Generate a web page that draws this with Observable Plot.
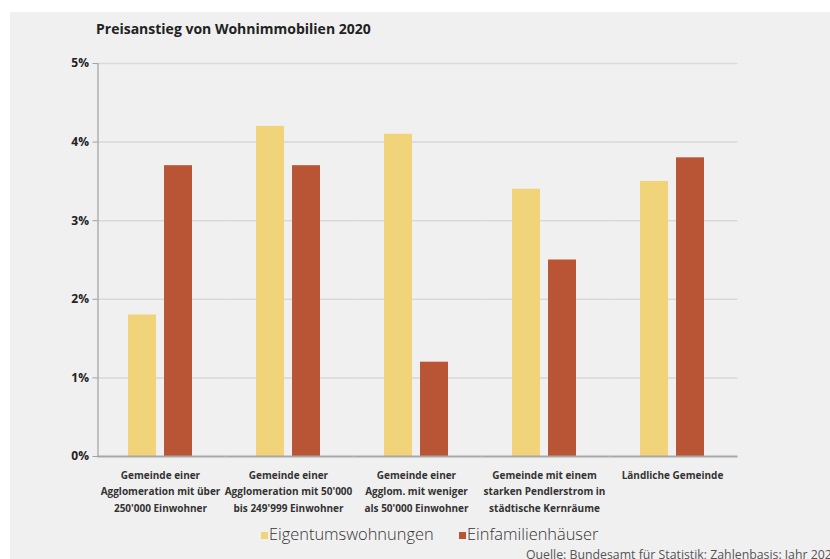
<!DOCTYPE html>
<html>
<head>
<meta charset="utf-8">
<script src="https://cdn.jsdelivr.net/npm/d3@7"></script>
<script src="https://cdn.jsdelivr.net/npm/@observablehq/plot@0.6"></script>
<style>
  html, body { margin: 0; padding: 0; background: #ffffff; }
  body { width: 830px; height: 559px; overflow: hidden; position: relative; font-family: "Open Sans", "Noto Sans", sans-serif; }
  #panel { position: absolute; left: 10px; top: 12px; right: 0; bottom: 0; background: #f0f0f0; }
  #chart { position: absolute; left: 0; top: 0; }
  #title { position: absolute; left: 96px; top: 22px; font-size: 14px; line-height: 14px; font-weight: 700; color: #222; white-space: nowrap; }
  .leg { position: absolute; top: 524px; font-size: 16.4px; line-height: 20px; font-weight: 300; color: #333; white-space: nowrap; }
  .leg .sw { position: absolute; left: 0; top: 8px; width: 7px; height: 7px; }
  .leg .lb { position: absolute; left: 8px; top: 0; }
  #source { position: absolute; left: 526px; top: 547px; font-size: 12.3px; line-height: 16px; font-weight: 400; color: #555; white-space: nowrap; }
</style>
</head>
<body>
<div id="panel"></div>
<div id="chart"></div>
<div id="title"></div>
<div id="legend"></div>
<div id="source"></div>
<script>
const titleText = "Preisanstieg von Wohnimmobilien 2020";
const sourceText = "Quelle: Bundesamt für Statistik; Zahlenbasis: Jahr 2020";
const categories = [
  "Gemeinde einer\nAgglomeration mit über\n250'000 Einwohner",
  "Gemeinde einer\nAgglomeration mit 50'000\nbis 249'999 Einwohner",
  "Gemeinde einer\nAgglom. mit weniger\nals 50'000 Einwohner",
  "Gemeinde mit einem\nstarken Pendlerstrom in\nstädtische Kernräume",
  "Ländliche Gemeinde"
];
const seriesNames = ["Eigentumswohnungen", "Einfamilienhäuser"];
const eigentumswohnungen = [1.8, 4.2, 4.1, 3.4, 3.5];
const einfamilienhaeuser = [3.7, 3.7, 1.2, 2.5, 3.8];
const yTicks = [0, 1, 2, 3, 4, 5];
const seriesColors = ["#f1d37a", "#b95535"];

const rows = [];
categories.forEach((c, i) => {
  rows.push({cat: c, series: seriesNames[0], value: eigentumswohnungen[i]});
  rows.push({cat: c, series: seriesNames[1], value: einfamilienhaeuser[i]});
});

const chart = Plot.plot({
  width: 830,
  height: 520,
  marginTop: 63,
  marginBottom: 64,
  marginLeft: 94,
  marginRight: 92,
  style: {background: "transparent", fontFamily: "'Open Sans', 'Noto Sans', sans-serif", color: "#333"},
  fx: {domain: categories, padding: 0, axis: null},
  x: {domain: seriesNames, paddingInner: 0.216, paddingOuter: 0.848, axis: null},
  y: {domain: [0, 5], axis: null},
  color: {domain: seriesNames, range: seriesColors},
  marks: [
    Plot.gridY(yTicks.slice(1), {stroke: "#d9d9d9", strokeOpacity: 1, strokeWidth: 1.5, dx: 1.5}),
    Plot.barY(rows, {fx: "cat", x: "series", y: "value", fill: "series"}),
    Plot.ruleY([0], {stroke: "#a8a8a8", strokeWidth: 2, dx: 1.5}),
    Plot.frame({anchor: "left", stroke: "#a0a0a0", strokeWidth: 1.2, facetAnchor: "left", dx: 1.5}),
    Plot.axisY(yTicks, {label: null, tickFormat: d => d + "%", tickSize: 5, tickPadding: 4, fontWeight: "bold", fontSize: 12, fill: "#222", stroke: "#a0a0a0", dx: 1.5}),
    Plot.text(categories, {fx: d => d, text: d => d, frameAnchor: "bottom", lineAnchor: "top", dy: 11, lineHeight: 1.63, fontWeight: "bold", fontSize: 10, fill: "#333"})
  ]
});
document.getElementById("chart").appendChild(chart);

document.getElementById("title").textContent = titleText;
document.getElementById("source").textContent = sourceText;

const legendLefts = [261, 459];
const legend = document.getElementById("legend");
seriesNames.forEach((name, i) => {
  const item = document.createElement("div");
  item.className = "leg";
  item.style.left = legendLefts[i] + "px";
  const sw = document.createElement("span");
  sw.className = "sw";
  sw.style.background = seriesColors[i];
  const lb = document.createElement("span");
  lb.className = "lb";
  lb.textContent = name;
  item.appendChild(sw);
  item.appendChild(lb);
  legend.appendChild(item);
});
</script>
</body>
</html>
